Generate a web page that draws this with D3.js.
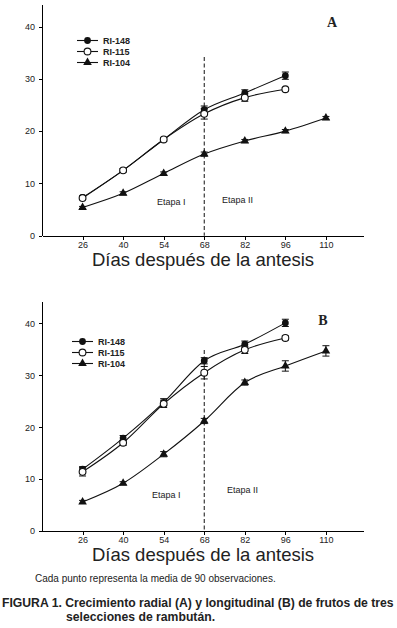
<!DOCTYPE html>
<html lang="es">
<head>
<meta charset="UTF-8">
<title>Figura 1</title>
<script src="https://cdn.jsdelivr.net/npm/d3@7"></script>
<style>
    body { margin: 0; background: #ffffff; }
    svg { display: block; }
    .axis path, .axis line { stroke: #000; shape-rendering: crispEdges; }
    .axis text { font-family: "Liberation Sans", Arial, sans-serif; font-size: 9px; fill: #222; }
    .serie { fill: none; stroke: #111; stroke-width: 1.1; }
    .err { stroke: #111; stroke-width: 1; }
    .leyenda { font-family: "Liberation Sans", Arial, sans-serif; font-size: 9px; font-weight: bold; fill: #222; }
    .etapa { font-family: "Liberation Sans", Arial, sans-serif; font-size: 9px; fill: #222; }
    .tituloX { font-family: "Liberation Sans", Arial, sans-serif; font-size: 18.5px; fill: #222; }
    .letra { font-family: "Liberation Serif", serif; font-size: 14px; font-weight: bold; fill: #222; }
    .nota { font-family: "Liberation Sans", Arial, sans-serif; font-size: 10px; fill: #222; }
    .figura { font-family: "Liberation Sans", Arial, sans-serif; font-size: 12.2px; font-weight: bold; fill: #222; }
</style>
</head>
<body>
<div id="grafico"></div>
<script>
// datos
var dias = [26, 40, 54, 68, 82, 96, 110];
var yTicks = [0, 10, 20, 30, 40];
var nombres = ["RI-148", "RI-115", "RI-104"];

// A: crecimiento radial
var radial148 = [7.3, 12.5, 18.4, 24.1, 27.3, 30.6];
var radial115 = [7.2, 12.5, 18.4, 23.3, 26.4, 28.0];
var radial104 = [5.4, 8.1, 11.9, 15.6, 18.1, 20.0, 22.5];
var errRadial148 = [0.3, 0.3, 0.3, 0.7, 0.6, 0.7];
var errRadial115 = [0.3, 0.3, 0.3, 1.0, 0.7, 0.3];
var errRadial104 = [0.2, 0.3, 0.3, 0.4, 0.3, 0.3, 0.3];

// B: crecimiento longitudinal
var long148 = [11.9, 17.9, 24.8, 32.8, 36.0, 40.1];
var long115 = [11.4, 17.0, 24.5, 30.5, 34.9, 37.2];
var long104 = [5.6, 9.2, 14.8, 21.2, 28.6, 31.8, 34.7];
var errLong148 = [0.5, 0.5, 0.7, 0.6, 0.6, 0.7];
var errLong115 = [0.8, 0.5, 0.7, 1.2, 0.7, 0.4];
var errLong104 = [0.3, 0.3, 0.5, 0.5, 0.5, 1.0, 1.0];

var w = 397, h = 628;
var svg = d3.select("#grafico").append("svg").attr("width", w).attr("height", h);

var xScale = d3.scaleLinear().domain([12, 122.8]).range([42, 363]);
var simbolos = ["lleno", "vacio", "triangulo"];

function marcador(g, tipo, x, y) {
    if (tipo === "lleno") {
        g.append("circle").attr("cx", x).attr("cy", y).attr("r", 3.4).attr("fill", "#111");
    } else if (tipo === "vacio") {
        g.append("circle").attr("cx", x).attr("cy", y).attr("r", 3.4)
            .attr("fill", "#fff").attr("stroke", "#111").attr("stroke-width", 1.1);
    } else {
        g.append("path").attr("transform", "translate(" + x + "," + y + ")")
            .attr("d", d3.symbol().type(d3.symbolTriangle).size(32)).attr("fill", "#111");
    }
}

function panel(cfg) {
    var yScale = d3.scaleLinear().domain([0, 44.3]).range([cfg.y0, cfg.y0 - 44.3 * cfg.k]);
    var g = svg.append("g");

    // linea de etapas
    g.append("line")
        .attr("x1", xScale(68)).attr("x2", xScale(68))
        .attr("y1", cfg.dashTop).attr("y2", cfg.y0)
        .attr("stroke", "#111").attr("stroke-width", 1).attr("stroke-dasharray", "4,2.5");

    var linea = d3.line()
        .x(function(d, i) { return xScale(dias[i]); })
        .y(function(d) { return yScale(d); })
        .curve(d3.curveMonotoneX);

    cfg.series.forEach(function(s, k) {
        g.append("path").datum(s).attr("class", "serie").attr("d", linea);
        s.forEach(function(v, i) {
            var e = cfg.errores[k][i];
            var x = xScale(dias[i]);
            g.append("line").attr("class", "err")
                .attr("x1", x).attr("x2", x).attr("y1", yScale(v - e)).attr("y2", yScale(v + e));
            [v - e, v + e].forEach(function(b) {
                g.append("line").attr("class", "err")
                    .attr("x1", x - 3.5).attr("x2", x + 3.5).attr("y1", yScale(b)).attr("y2", yScale(b));
            });
        });
    });
    cfg.series.forEach(function(s, k) {
        s.forEach(function(v, i) { marcador(g, simbolos[k], xScale(dias[i]), yScale(v)); });
    });

    // ejes
    g.append("g").attr("class", "axis")
        .attr("transform", "translate(0," + cfg.y0 + ")")
        .call(d3.axisBottom(xScale).tickValues(dias).tickSize(4).tickSizeOuter(0).tickPadding(2));
    g.append("g").attr("class", "axis")
        .attr("transform", "translate(" + xScale.range()[0] + ",0)")
        .call(d3.axisLeft(yScale).tickValues(yTicks).tickSize(3).tickSizeOuter(0).tickPadding(4));

    // leyenda
    nombres.forEach(function(n, k) {
        var ly = cfg.legY + k * 11;
        g.append("line").attr("x1", cfg.legX).attr("x2", cfg.legX + 21)
            .attr("y1", ly).attr("y2", ly).attr("stroke", "#111").attr("stroke-width", 1.1);
        marcador(g, simbolos[k], cfg.legX + 10.5, ly);
        g.append("text").attr("class", "leyenda").attr("x", cfg.legX + 26).attr("y", ly + 3.3).text(n);
    });

    g.append("text").attr("class", "etapa").attr("x", cfg.etapa1[0]).attr("y", cfg.etapa1[1]).text("Etapa I");
    g.append("text").attr("class", "etapa").attr("x", cfg.etapa2[0]).attr("y", cfg.etapa2[1]).text("Etapa II");
    g.append("text").attr("class", "letra").attr("x", cfg.letra[0]).attr("y", cfg.letra[1])
        .attr("text-anchor", "middle").text(cfg.nombre);
    g.append("text").attr("class", "tituloX").attr("x", 203).attr("y", cfg.y0 + 30)
        .attr("text-anchor", "middle").text("Días después de la antesis");
}

panel({
    nombre: "A", y0: 235.7, k: 5.23, dashTop: 57,
    series: [radial148, radial115, radial104],
    errores: [errRadial148, errRadial115, errRadial104],
    legX: 77, legY: 40.5, etapa1: [157, 205], etapa2: [222, 203], letra: [332, 27]
});
panel({
    nombre: "B", y0: 531, k: 5.19, dashTop: 350,
    series: [long148, long115, long104],
    errores: [errLong148, errLong115, errLong104],
    legX: 72, legY: 341.5, etapa1: [152, 498], etapa2: [227, 493], letra: [323, 325]
});

svg.append("text").attr("class", "nota").attr("x", 35).attr("y", 582)
    .text("Cada punto representa la media de 90 observaciones.");
svg.append("text").attr("class", "figura").attr("x", 2).attr("y", 607)
    .text("FIGURA 1. Crecimiento radial (A) y longitudinal (B) de frutos de tres");
svg.append("text").attr("class", "figura").attr("x", 66).attr("y", 621)
    .text("selecciones de rambután.");
</script>
</body>
</html>
